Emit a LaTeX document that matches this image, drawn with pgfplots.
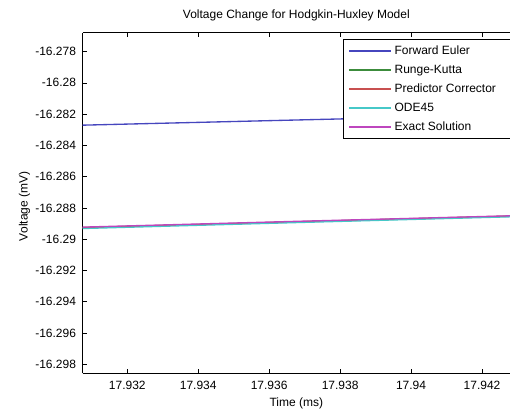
\documentclass[border=0pt]{standalone}
\usepackage{pgfplots}
\pgfplotsset{compat=1.18}
\usepackage{fontspec}
\setmainfont{Liberation Sans}
\definecolor{mblue}{RGB}{70,70,190}
\definecolor{mgreen}{RGB}{60,140,60}
\definecolor{mred}{RGB}{200,80,80}
\definecolor{mcyan}{RGB}{70,200,200}
\definecolor{mmag}{RGB}{190,70,190}
\begin{document}
\begin{tikzpicture}
\begin{axis}[
  scale only axis,
  width=320.5pt, height=255.6pt,
  xmin=17.930743, xmax=17.942789,
  ymin=-16.298576, ymax=-16.276783,
  axis x line=box, axis y line=left,
  y axis line style={-},
  xtick={17.932,17.934,17.936,17.938,17.94,17.942},
  xticklabels={17.932,17.934,17.936,17.938,17.94,17.942},
  ytick={-16.278,-16.28,-16.282,-16.284,-16.286,-16.288,-16.29,-16.292,-16.294,-16.296,-16.298},
  yticklabels={-16.278,-16.28,-16.282,-16.284,-16.286,-16.288,-16.29,-16.292,-16.294,-16.296,-16.298},
  tick align=inside,
  major tick length=3.5pt,
  every tick/.style={black, line width=0.5pt},
  axis line style={line width=0.6pt},
  font=\fontsize{9}{11}\selectfont,
  ticklabel style={font=\fontsize{9}{11}\selectfont},
  xticklabel style={yshift=-2pt},
  yticklabel style={xshift=-1.5pt},
  title={Voltage Change for Hodgkin-Huxley Model},
  title style={at={(axis description cs:0.5,1)}, anchor=base, yshift=4.3pt, font=\fontsize{9}{11}\selectfont},
  xlabel={Time (ms)},
  xlabel style={at={(axis description cs:0.5,-0.088)}, anchor=center},
  ylabel={Voltage (mV)},
  ylabel style={at={(axis description cs:-0.136,0.49)}, anchor=center, rotate=0},
  legend cell align=left,
  legend style={at={(0.609,0.981)}, anchor=north west, draw=black, line width=0.6pt,
    font=\fontsize{9}{11}\selectfont, row sep=1.2pt, inner xsep=4pt, inner ysep=2.3pt,
    nodes={text height=7pt, text depth=2pt}},
  legend image code/.code={\draw[#1, line width=1pt] (0pt,0pt) -- (31.5pt,0pt);},
]
\addplot[mblue, line width=1pt] coordinates {(17.930743,-16.282707) (17.9367,-16.282380) (17.942789,-16.282047)};
\addlegendentry{Forward Euler}
\addplot[mgreen, line width=1pt] coordinates {(17.930743,-16.289265) (17.9367,-16.288900) (17.942789,-16.288530)};
\addlegendentry{Runge-Kutta}
\addplot[mred, line width=1pt] coordinates {(17.930743,-16.289255) (17.9367,-16.288890) (17.942789,-16.288520)};
\addlegendentry{Predictor Corrector\rule{14pt}{0pt}}
\addplot[mcyan, line width=1pt] coordinates {(17.930743,-16.289316) (17.9367,-16.288940) (17.942789,-16.288567)};
\addlegendentry{ODE45}
\addplot[mmag, line width=1pt] coordinates {(17.930743,-16.289226) (17.9367,-16.288860) (17.942789,-16.288503)};
\addlegendentry{Exact Solution}
\end{axis}
\pgfresetboundingbox
\path ([xshift=-62pt,yshift=-26.8pt]current axis.south west) rectangle ([yshift=24.4pt]current axis.north east);
\end{tikzpicture}
\end{document}
